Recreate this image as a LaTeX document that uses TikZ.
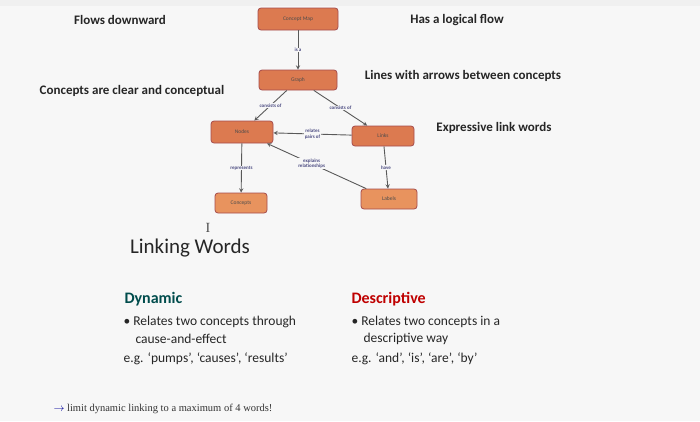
\documentclass[tikz,border=0pt]{standalone}
\usepackage{fontspec}
\setmainfont{Carlito}
\newfontfamily\serifx{Liberation Serif}
\definecolor{nfill}{HTML}{DC7A50}
\definecolor{nfill2}{HTML}{E8935E}
\begin{document}
\begin{tikzpicture}[x=1pt,y=-1pt,
 cbox/.style={draw=red!50!black!70,line width=0.8pt,fill=nfill,rounded corners=3pt,font=\fontsize{5.5}{6}\selectfont,text=black!70,inner sep=0pt},
 clbox/.style={cbox,fill=nfill2},
 lk/.style={font=\bfseries\fontsize{5}{5.5}\selectfont,text=blue!30!black!70,align=center,fill=black!3,inner sep=0.5pt},
 ar/.style={->,>=stealth,draw=black!65,line width=0.9pt},
 hd/.style={font=\bfseries\fontsize{13}{15}\selectfont,text=black!85},
 bd/.style={font=\fontsize{13.5}{15}\selectfont,text=black!85,anchor=west}]
\useasboundingbox (0,0) rectangle (700,421);
\fill[black!3] (0,0) rectangle (700,421);
\fill[black!6] (0,0) rectangle (700,6);
\node[cbox,minimum width=80,minimum height=22] (cmap) at (298,19) {Concept Map};
\node[cbox,minimum width=78,minimum height=20] (graph) at (298,80) {Graph};
\node[cbox,minimum width=62,minimum height=22] (nodes) at (242,132) {Nodes};
\node[cbox,minimum width=62,minimum height=20] (links) at (383,136) {Links};
\node[clbox,minimum width=52,minimum height=20] (conc) at (241,203) {Concepts};
\node[clbox,minimum width=56,minimum height=20] (labels) at (389,199) {Labels};
\draw[ar] (cmap) -- node[lk] (l1) {is a} (graph);
\draw[ar] (graph) -- node[lk] (l2) {consists of} (nodes);
\draw[ar] (graph) -- node[lk] (l3) {consists of} (links);
\draw[ar] (links) -- node[lk] (l4) {relates\\pairs of} (nodes);
\draw[ar] (nodes) -- node[lk] (l5) {represents} (conc);
\draw[ar] (labels) -- node[lk,pos=0.55] (l6) {explains\\relationships} (nodes);
\draw[ar] (links) -- node[lk] (l7) {have} (labels);
\node[hd] (t1) at (120,20) {Flows downward};
\node[hd] (t2) at (457,20) {Has a logical flow};
\node[hd] (t3) at (463,76) {Lines with arrows between concepts};
\node[hd] (t4) at (132,91) {Concepts are clear and conceptual};
\node[hd] (t5) at (494,128) {Expressive link words};
\node[font=\serifx\fontsize{14}{14}\selectfont,text=black!70] (cur) at (208,228) {I};
\node[font=\fontsize{21}{23}\selectfont,text=black!85] (lw) at (190,248) {Linking Words};
\node[font=\bfseries\fontsize{16}{17}\selectfont,text=teal!60!black,anchor=west] (dyn) at (121,299) {Dynamic};
\node[font=\bfseries\fontsize{16}{17}\selectfont,text=red!75!black,anchor=west] (des) at (348,299) {Descriptive};
\node[bd] (d1) at (120,322) {\textbullet\ Relates two concepts through};
\node[bd] (d2) at (132,339) {cause-and-effect};
\node[bd] (d3) at (120,359) {e.g. ‘pumps’, ‘causes’, ‘results’};
\node[bd] (e1) at (348,322) {\textbullet\ Relates two concepts in a};
\node[bd] (e2) at (360,339) {descriptive way};
\node[bd] (e3) at (348,359) {e.g. ‘and’, ‘is’, ‘are’, ‘by’};
\node[font=\serifx\fontsize{10.5}{12}\selectfont,text=black!80,anchor=west] (ft) at (50,409) {\textcolor{blue!60!black}{$\rightarrow$}\ limit dynamic linking to a maximum of 4 words!};
\end{tikzpicture}
\end{document}
